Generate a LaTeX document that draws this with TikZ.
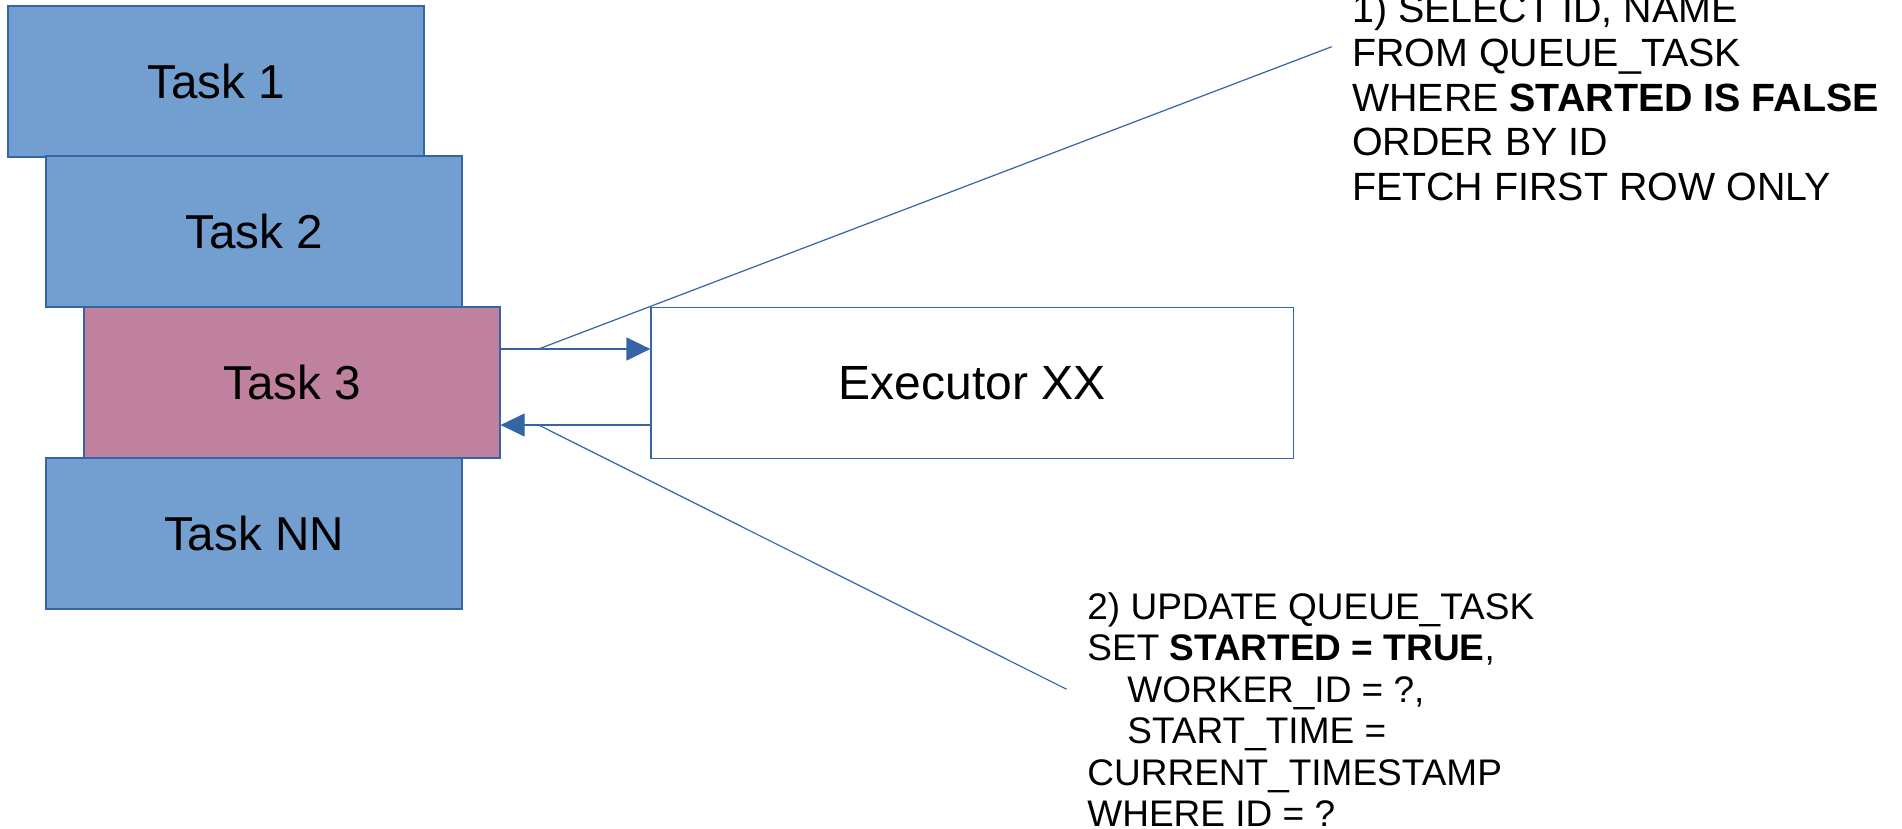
\documentclass[tikz,border=0pt]{standalone}
\usepackage{fontspec}
\setmainfont{Liberation Sans}
\usetikzlibrary{arrows.meta,calc}
\definecolor{taskblue}{HTML}{729FCF}
\definecolor{taskpink}{HTML}{BF819E}
\definecolor{edge}{HTML}{3465A4}
\begin{document}
\begin{tikzpicture}[x=0.5pt,y=-0.5pt,
  taskbox/.style={draw=edge,line width=0.6pt,fill=taskblue,inner sep=0pt,
    minimum width=208pt,minimum height=75.5pt,font=\fontsize{23.8pt}{27pt}\selectfont},
  execbox/.style={draw=edge,line width=0.6pt,fill=white,inner sep=0pt,
    minimum width=321.25pt,minimum height=75.5pt,font=\fontsize{24pt}{27pt}\selectfont},
  conn/.style={draw=edge,line width=0.6pt},
  tip/.style={-{Triangle[length=12pt,width=11.5pt]}},
  sqltxt/.style={inner sep=0pt,align=left,anchor=base west}]
\useasboundingbox (0,0) rectangle (1902,829);
\node[taskbox] (t1) at (216,81.5) {Task 1};
\node[taskbox] (t2) at (254,231.5) {Task 2};
\node[taskbox,fill=taskpink] (t3) at (292,382.5) {Task 3};
\node[taskbox] (tn) at (254,533.5) {Task NN};
\node[execbox] (ex) at (972.25,383) {Executor XX};
\coordinate (a1) at ($(t3.east)+(0,-33.5)$);
\coordinate (a2) at ($(t3.east)+(0,42.5)$);
\coordinate (b1) at ($(a1)+(38,0)$);
\coordinate (b2) at ($(a2)+(38,0)$);
\coordinate (q1) at (1331.7,46.7);
\coordinate (q2) at (1066.7,689.3);
\draw[conn,tip,fill=edge] (a1) -- (a1 -| ex.west);
\draw[conn,tip,fill=edge] (a2 -| ex.west) -- (a2);
\draw[conn] (b1) -- (q1);
\draw[conn] (b2) -- (q2);
\node[sqltxt,font=\fontsize{19.7pt}{22.2pt}\selectfont] (s1) at (1351.7,200)
  {1) SELECT ID, NAME\\FROM QUEUE\_TASK\\WHERE \textbf{STARTED IS FALSE}\\ORDER BY ID\\FETCH FIRST ROW ONLY};
\node[sqltxt,font=\fontsize{18.5pt}{20.75pt}\selectfont] (s2) at (1087,826.7)
  {2) UPDATE QUEUE\_TASK\\SET \textbf{STARTED = TRUE},\\\hspace*{20pt}WORKER\_ID = ?,\\\hspace*{20pt}START\_TIME =\\CURRENT\_TIMESTAMP\\WHERE ID = ?};
\end{tikzpicture}
\end{document}
